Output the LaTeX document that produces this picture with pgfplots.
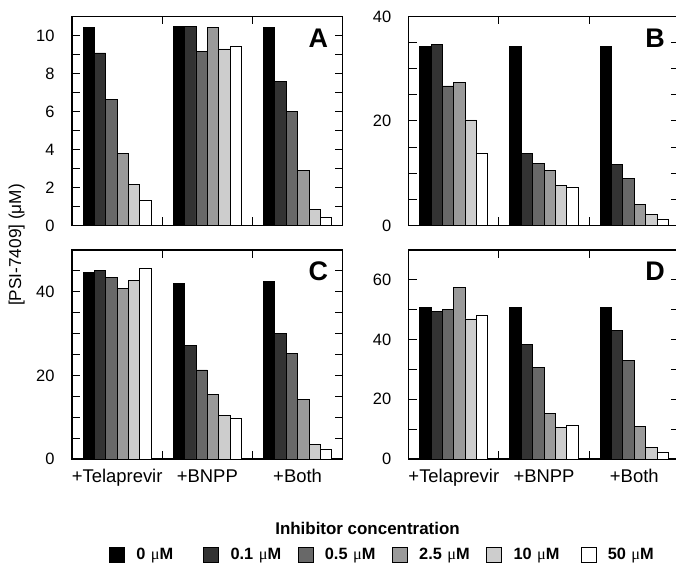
\documentclass[border=0pt]{standalone}
\usepackage{pgfplots}
\pgfplotsset{compat=1.18}
\usepackage{pgfplotstable}
\usepackage{fontspec}
\setmainfont{Liberation Sans}
\newfontfamily\serifmu{Liberation Serif}

\definecolor{c0}{HTML}{000000}
\definecolor{c1}{HTML}{333333}
\definecolor{c2}{HTML}{686868}
\definecolor{c3}{HTML}{9A9A9A}
\definecolor{c4}{HTML}{CDCDCD}
\definecolor{c5}{HTML}{FFFFFF}

% columns: group (1 Telaprevir, 2 BNPP, 3 Both); c0..c5 = 0, 0.1, 0.5, 2.5, 10, 50 uM
\pgfplotstableread{
g c0 c1 c2 c3 c4 c5
1 10.42 9.08 6.65 3.81 2.17 1.31
2 10.46 10.49 9.17 10.42 9.29 9.40
3 10.42 7.58 6.00 2.91 0.86 0.42
}\dataA
\pgfplotstableread{
g c0 c1 c2 c3 c4 c5
1 34.3 34.7 26.7 27.3 20.2 13.7
2 34.3 13.7 11.9 10.5 7.7 7.2
3 34.3 11.7 9.0 4.1 2.2 1.1
}\dataB
\pgfplotstableread{
g c0 c1 c2 c3 c4 c5
1 44.6 45.1 43.4 40.7 42.6 45.6
2 42.0 27.2 21.3 15.4 10.3 9.7
3 42.4 30.1 25.2 14.2 3.5 2.4
}\dataC
\pgfplotstableread{
g c0 c1 c2 c3 c4 c5
1 50.8 49.4 50.2 57.5 46.9 48.0
2 50.8 38.5 30.7 15.4 10.5 11.1
3 50.8 43.2 33.1 10.8 3.9 2.2
}\dataD

\tikzset{letter/.style={anchor=north east, inner sep=0pt, font=\bfseries\fontsize{27}{27}\selectfont, xshift=-14.5bp, yshift=-12bp}}

\pgfplotsset{
  panel/.style={
    scale only axis, width=270.7bp, height=209bp, anchor=south west,
    xmin=0.5, xmax=3.5, ymin=0,
    ybar=0pt, bar width=0.126,
    xtick={1.5,2.5}, xticklabels={},
    xtick pos=both, ytick pos=both,
    xticklabel pos=lower, yticklabel pos=left,
    tick align=inside,
    major tick length=8bp, minor tick length=8bp,
    axis line style={line width=1.1bp, black},
    tick style={line width=1bp, black},
    yticklabel style={font=\fontsize{16.5}{18}\selectfont, xshift=-14bp},
    /pgf/number format/assume math mode=true,
    clip=false,
  },
  bars/.style={draw=black, line width=0.9bp, fill=#1},
  catlabels/.style={
    extra x ticks={1,2,3},
    extra x tick labels={+Telaprevir,+BNPP,+Both},
    extra x tick style={major tick length=0pt,
      xticklabel style={font=\fontsize{18.5}{20}\selectfont, yshift=-7bp}},
  },
}

\begin{document}
\begin{tikzpicture}
% Panel A
\begin{axis}[panel, at={(72bp,337.5bp)}, ymax=11,
  ytick={0,2,...,10}, minor ytick={1,3,...,9}]
\addplot[bars=c0] table[x=g,y=c0]{\dataA};
\addplot[bars=c1] table[x=g,y=c1]{\dataA};
\addplot[bars=c2] table[x=g,y=c2]{\dataA};
\addplot[bars=c3] table[x=g,y=c3]{\dataA};
\addplot[bars=c4] table[x=g,y=c4]{\dataA};
\addplot[bars=c5] table[x=g,y=c5]{\dataA};
\node[letter] at (rel axis cs:1,1) {A};
\end{axis}
% Panel B
\begin{axis}[panel, at={(408.7bp,337.5bp)}, ymax=40,
  ytick={0,20,40}, minor ytick={5,10,15,25,30,35}]
\addplot[bars=c0] table[x=g,y=c0]{\dataB};
\addplot[bars=c1] table[x=g,y=c1]{\dataB};
\addplot[bars=c2] table[x=g,y=c2]{\dataB};
\addplot[bars=c3] table[x=g,y=c3]{\dataB};
\addplot[bars=c4] table[x=g,y=c4]{\dataB};
\addplot[bars=c5] table[x=g,y=c5]{\dataB};
\node[letter] at (rel axis cs:1,1) {B};
\end{axis}
% Panel C
\begin{axis}[panel, catlabels, at={(72bp,104bp)}, ymax=50,
  ytick={0,20,40}, minor ytick={5,10,15,25,30,35,45},
  legend columns=6,
  legend cell align=left,
  legend image code/.code={\draw[#1] (0bp,-7.5bp) rectangle (15bp,7.5bp);},
  legend style={at={(0.1367,-0.457)}, anchor=west, draw=none, fill=none,
    inner sep=0pt, outer sep=0pt,
    font=\bfseries\fontsize{16.4}{18}\selectfont,
    /tikz/every even column/.append style={column sep=11bp},
    /tikz/every odd column/.append style={column sep=11.4bp},
    nodes={inner sep=0pt, text width=56bp, align=left}},
]
\addplot[bars=c0] table[x=g,y=c0]{\dataC};
\addlegendentry{0 {\mdseries\serifmu μ}M}
\addplot[bars=c1] table[x=g,y=c1]{\dataC};
\addlegendentry{0.1 {\mdseries\serifmu μ}M}
\addplot[bars=c2] table[x=g,y=c2]{\dataC};
\addlegendentry{0.5 {\mdseries\serifmu μ}M}
\addplot[bars=c3] table[x=g,y=c3]{\dataC};
\addlegendentry{2.5 {\mdseries\serifmu μ}M}
\addplot[bars=c4] table[x=g,y=c4]{\dataC};
\addlegendentry{10 {\mdseries\serifmu μ}M}
\addplot[bars=c5] table[x=g,y=c5]{\dataC};
\addlegendentry{50 {\mdseries\serifmu μ}M}
\node[letter] at (rel axis cs:1,1) {C};
\end{axis}
% Panel D
\begin{axis}[panel, catlabels, at={(408.7bp,104bp)}, ymax=70,
  ytick={0,20,40,60}, minor ytick={10,30,50}]
\addplot[bars=c0] table[x=g,y=c0]{\dataD};
\addplot[bars=c1] table[x=g,y=c1]{\dataD};
\addplot[bars=c2] table[x=g,y=c2]{\dataD};
\addplot[bars=c3] table[x=g,y=c3]{\dataD};
\addplot[bars=c4] table[x=g,y=c4]{\dataD};
\addplot[bars=c5] table[x=g,y=c5]{\dataD};
\node[letter] at (rel axis cs:1,1) {D};
\end{axis}
\node[rotate=90, font=\fontsize{17.3}{19}\selectfont] at (16.7bp,318bp) {[PSI-7409] (μM)};
\node[font=\bfseries\fontsize{17}{19}\selectfont] at (367.5bp,35bp) {Inhibitor concentration};
\pgfresetboundingbox
\path[use as bounding box] (0,0) rectangle (676bp,563bp);
\end{tikzpicture}
\end{document}
